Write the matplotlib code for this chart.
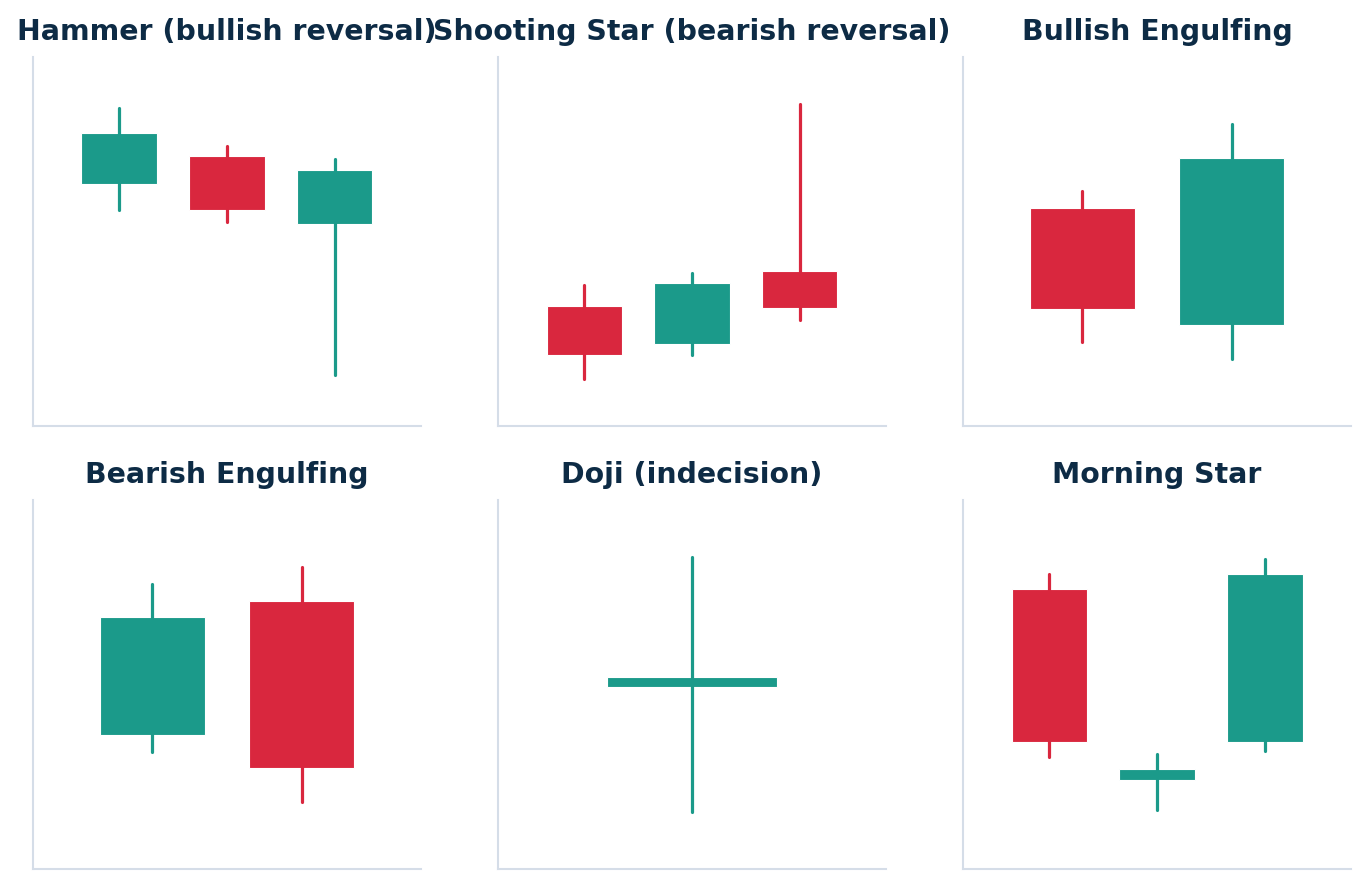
import matplotlib
matplotlib.use("Agg")
import matplotlib.pyplot as plt
from matplotlib.patches import Rectangle

# ---- data ----
titles = ["Hammer (bullish reversal)", "Shooting Star (bearish reversal)", "Bullish Engulfing",
          "Bearish Engulfing", "Doji (indecision)", "Morning Star"]

hammer_open  = [100.0, 101.1, 98.45]
hammer_high  = [103.0, 101.5, 101.0]
hammer_low   = [99.0, 98.5, 92.5]
hammer_close = [102.0, 99.0, 100.55]

star_open  = [100.1, 98.5, 101.6]
star_high  = [101.0, 101.5, 108.7]
star_low   = [97.0, 98.0, 99.5]
star_close = [98.0, 101.1, 100.0]

bull_open  = [103.0, 99.5]
bull_high  = [103.5, 105.5]
bull_low   = [99.0, 98.5]
bull_close = [100.0, 104.5]

bear_open  = [100.0, 104.0]
bear_high  = [104.5, 105.0]
bear_low   = [99.5, 98.0]
bear_close = [103.5, 99.0]

doji_open  = [100.0]
doji_high  = [104.4]
doji_low   = [95.4]
doji_close = [100.0]

morning_open  = [105.2, 98.8, 100.0]
morning_high  = [105.7, 99.6, 106.2]
morning_low   = [99.5, 97.7, 99.7]
morning_close = [100.0, 99.0, 105.7]

panels = [
    (hammer_open, hammer_high, hammer_low, hammer_close),
    (star_open, star_high, star_low, star_close),
    (bull_open, bull_high, bull_low, bull_close),
    (bear_open, bear_high, bear_low, bear_close),
    (doji_open, doji_high, doji_low, doji_close),
    (morning_open, morning_high, morning_low, morning_close),
]

UP = "#1b9a8a"
DOWN = "#d9273e"
TITLE = "#0d2b45"
SPINE = "#d5dde8"
BODY_W = 0.7
MIN_BODY = 0.35
PAD = 2.0

fig, axes = plt.subplots(2, 3, figsize=(13.67, 8.86), dpi=100)
fig.subplots_adjust(left=33/1367, right=1351/1367, bottom=17/886, top=829/886,
                    wspace=0.1985, hspace=0.2005)

for ax, title, (o, h, l, c) in zip(axes.flat, titles, panels):
    n = len(o)
    for i in range(n):
        col = UP if c[i] >= o[i] else DOWN
        ax.plot([i, i], [l[i], h[i]], color=col, lw=2.3, solid_capstyle="round", zorder=4)
        lo = min(o[i], c[i])
        hi = max(o[i], c[i])
        if hi - lo < MIN_BODY:
            mid = (hi + lo) / 2
            lo, hi = mid - MIN_BODY / 2, mid + MIN_BODY / 2
        ax.add_patch(Rectangle((i - BODY_W / 2, lo), BODY_W, hi - lo,
                               facecolor=col, edgecolor="white", linewidth=0.8, zorder=3))
    ax.set_xlim(-0.8, n - 0.2)
    ax.set_ylim(min(l) - PAD, max(h) + PAD)
    ax.set_xticks([])
    ax.set_yticks([])
    for s in ["top", "right"]:
        ax.spines[s].set_visible(False)
    for s in ["left", "bottom"]:
        ax.spines[s].set_color(SPINE)
        ax.spines[s].set_linewidth(1.5)
    ax.set_title(title, fontsize=20.4, fontweight="bold", color=TITLE, pad=12)

fig.savefig("out.png", dpi=100, facecolor="white")
